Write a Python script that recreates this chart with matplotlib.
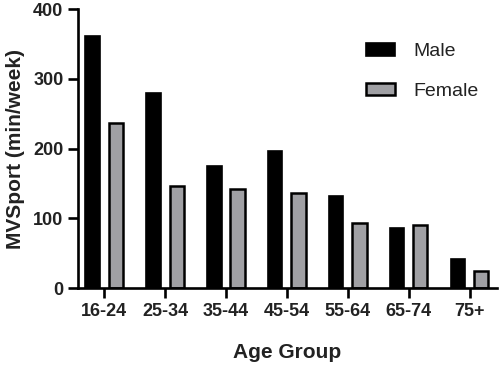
import matplotlib
matplotlib.use("Agg")
import matplotlib.pyplot as plt
import numpy as np

categories = ["16-24", "25-34", "35-44", "45-54", "55-64", "65-74", "75+"]
male = [362, 280, 175, 196, 132, 86, 42]
female = [237, 147, 142, 136, 94, 91, 24]

plt.rcParams['font.family'] = ['Liberation Sans', 'DejaVu Sans']

fig = plt.figure(figsize=(5, 3.67), dpi=100)
ax = fig.add_axes([0.156, 0.215, 0.838, 0.76])

x = np.arange(len(categories))
w = 0.235
ax.bar(x - 0.19, male, width=w, color='black', edgecolor='black', linewidth=1.2, label='Male')
ax.bar(x + 0.19, female, width=w, color='#a0a0a4', edgecolor='black', linewidth=1.8, label='Female')

ax.set_xlim(-0.43, 6.45)
ax.set_ylim(0, 400)
ax.set_yticks([0, 100, 200, 300, 400])
ax.set_xticks(x)
ax.set_xticklabels(categories)

for s in ['top', 'right']:
    ax.spines[s].set_visible(False)
for s in ['left', 'bottom']:
    ax.spines[s].set_linewidth(1.9)

ax.tick_params(axis='both', which='major', length=7, width=1.9, labelsize=13, pad=3.5)
for lbl in ax.get_xticklabels() + ax.get_yticklabels():
    lbl.set_fontweight('bold')
    lbl.set_color('#222222')

ax.set_xlabel('Age Group', fontsize=15, fontweight='bold', labelpad=17, color='#222222')
ax.set_ylabel('MVSport (min/week)', fontsize=15, fontweight='bold', labelpad=6, color='#222222')

leg = ax.legend(loc='upper left', bbox_to_anchor=(0.668, 0.905), frameon=False,
                fontsize=14, handlelength=1.5, handleheight=0.6,
                handletextpad=0.95, labelspacing=1.15, borderaxespad=0)
for t in leg.get_texts():
    t.set_color('#222222')

fig.savefig('out.png', dpi=100)
